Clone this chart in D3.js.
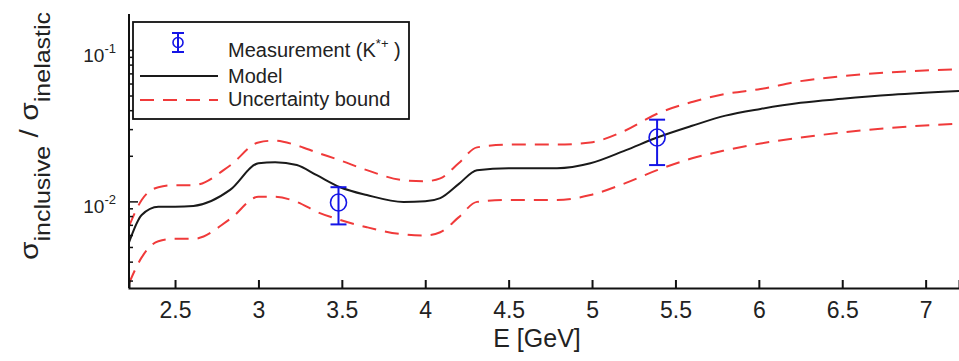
<!DOCTYPE html>
<html>
<head>
<style>
  body { margin: 0; background: #fff; }
  text { font-family: "Liberation Sans", Arial, sans-serif; fill: #222; }
</style>
<script src="https://d3js.org/d3.v7.min.js"></script>
</head>
<body>
<svg id="chart" width="959" height="361"></svg>
<script>
// energy grid [GeV] and curves
var energy = [2.224, 2.30, 2.40, 2.5, 2.61, 2.83, 3.0, 3.1, 3.23, 3.35, 3.49, 3.65, 3.87, 4.0, 4.09, 4.2, 4.31, 4.5, 4.79, 4.99, 5.2, 5.39, 5.6, 5.8, 6.01, 6.25, 6.5, 6.8, 7.2];
var model = [0.0054, 0.0082, 0.0093, 0.0093, 0.0094, 0.0120, 0.0180, 0.0183, 0.0175, 0.0150, 0.0125, 0.0111, 0.0100, 0.0101, 0.0106, 0.0131, 0.0162, 0.0167, 0.0167, 0.0180, 0.0219, 0.0266, 0.0318, 0.0371, 0.0411, 0.0451, 0.0479, 0.0509, 0.0539];
var upper = [0.0069, 0.0103, 0.0125, 0.0129, 0.0129, 0.0174, 0.0247, 0.0254, 0.0236, 0.0212, 0.0188, 0.0162, 0.0139, 0.0137, 0.0143, 0.0180, 0.0229, 0.0239, 0.0239, 0.0247, 0.0296, 0.0382, 0.0457, 0.0516, 0.0556, 0.0627, 0.0676, 0.0718, 0.0752];
var lower = [0.0029, 0.0043, 0.0055, 0.0057, 0.0057, 0.0077, 0.0108, 0.0108, 0.0100, 0.0086, 0.0076, 0.0068, 0.0061, 0.0060, 0.0063, 0.0079, 0.0100, 0.0103, 0.0103, 0.0111, 0.0133, 0.0162, 0.0194, 0.0219, 0.0243, 0.0266, 0.0287, 0.0309, 0.0328];

// measurements (K*+)
var measE = [3.48, 5.39];
var measVal = [0.0099, 0.0266];
var measLo = [0.0071, 0.0175];
var measHi = [0.0125, 0.0349];

var xTicks = [2.5, 3, 3.5, 4, 4.5, 5, 5.5, 6, 6.5, 7];
var yMajor = [0.01, 0.1];
var yMinor = [0.003, 0.004, 0.005, 0.006, 0.007, 0.008, 0.009, 0.02, 0.03, 0.04, 0.05, 0.06, 0.07, 0.08, 0.09];
var xDomain = [2.224, 7.2];
var yDomain = [0.0027, 0.174];

var svg = d3.select("#chart");
var margin = {top: 14, right: 0, bottom: 73, left: 129};
var W = +svg.attr("width"), H = +svg.attr("height");

var x = d3.scaleLinear().domain(xDomain).range([margin.left, W - margin.right]);
var y = d3.scaleLog().domain(yDomain).range([H - margin.bottom, margin.top]);

svg.append("clipPath").attr("id", "clip")
  .append("rect")
  .attr("x", margin.left).attr("y", margin.top)
  .attr("width", W - margin.left - margin.right)
  .attr("height", H - margin.top - margin.bottom);

var plot = svg.append("g").attr("clip-path", "url(#clip)");

var line = d3.line().curve(d3.curveMonotoneX);
function pts(vals) { return energy.map(function(e, i){ return [x(e), y(vals[i])]; }); }

[upper, lower].forEach(function(v){
  plot.append("path")
    .attr("d", line(pts(v)))
    .attr("fill", "none")
    .attr("stroke", "#f03a3a")
    .attr("stroke-width", 2)
    .attr("stroke-dasharray", "14,9");
});

plot.append("path")
  .attr("d", line(pts(model)))
  .attr("fill", "none")
  .attr("stroke", "#1a1a1a")
  .attr("stroke-width", 2);

// error bars
var blue = "#1515e6";
measE.forEach(function(e, i){
  var cx = x(e);
  var g = plot.append("g").attr("stroke", blue).attr("stroke-width", 2).attr("fill", "none");
  g.append("line").attr("x1", cx).attr("x2", cx).attr("y1", y(measLo[i])).attr("y2", y(measHi[i]));
  g.append("line").attr("x1", cx - 8).attr("x2", cx + 8).attr("y1", y(measLo[i])).attr("y2", y(measLo[i]));
  g.append("line").attr("x1", cx - 8).attr("x2", cx + 8).attr("y1", y(measHi[i])).attr("y2", y(measHi[i]));
  g.append("ellipse").attr("cx", cx).attr("cy", y(measVal[i])).attr("rx", 8).attr("ry", 8.5).attr("stroke-width", 1.6);
});

// axes
var xAxis = svg.append("g")
  .attr("transform", "translate(0," + (H - margin.bottom) + ")")
  .call(d3.axisBottom(x).tickValues(xTicks).tickSize(-8).tickPadding(14).tickFormat(d3.format("")));
xAxis.select(".domain").attr("stroke", "#111").attr("stroke-width", 2);
xAxis.selectAll(".tick line").attr("stroke", "#111").attr("stroke-width", 2);
xAxis.selectAll("text").style("font-size", "23px").attr("fill", "#222");

var yAxisG = svg.append("g").attr("transform", "translate(" + margin.left + ",0)");
yAxisG.append("line")
  .attr("x1", 0).attr("x2", 0)
  .attr("y1", margin.top).attr("y2", H - margin.bottom)
  .attr("stroke", "#111").attr("stroke-width", 2);
yAxisG.selectAll(".minor").data(yMinor).enter().append("line")
  .attr("x1", 0).attr("x2", 4)
  .attr("y1", function(d){ return y(d); }).attr("y2", function(d){ return y(d); })
  .attr("stroke", "#111").attr("stroke-width", 1.5);
yAxisG.selectAll(".major").data(yMajor).enter().append("line")
  .attr("x1", 0).attr("x2", 9)
  .attr("y1", function(d){ return y(d); }).attr("y2", function(d){ return y(d); })
  .attr("stroke", "#111").attr("stroke-width", 1.5);
var yl = yAxisG.selectAll(".ylab").data(yMajor).enter().append("text")
  .attr("x", -13)
  .attr("y", function(d){ return y(d) + 11.5; })
  .attr("text-anchor", "end")
  .style("font-size", "19px");
yl.append("tspan").text("10");
yl.append("tspan").attr("dy", -9).style("font-size", "13px")
  .text(function(d){ return "-" + Math.round(-Math.log10(d)); });

// axis titles
svg.append("text")
  .attr("x", 537)
  .attr("y", 347)
  .attr("text-anchor", "middle")
  .style("font-size", "25px")
  .text("E [GeV]");

var yt = svg.append("text")
  .attr("transform", "translate(38,136) rotate(-90) scale(1,0.85)")
  .attr("text-anchor", "middle")
  .style("font-size", "30px");
yt.append("tspan").text("σ");
yt.append("tspan").attr("dy", 14).style("font-size", "25px").text("inclusive");
yt.append("tspan").attr("dy", -14).text(" / σ");
yt.append("tspan").attr("dy", 14).style("font-size", "25px").text("inelastic");

// legend
var leg = svg.append("g");
leg.append("rect")
  .attr("x", 133).attr("y", 22).attr("width", 276).attr("height", 97)
  .attr("fill", "#fff").attr("stroke", "#111").attr("stroke-width", 1.8);

var li = leg.append("g").attr("stroke", blue).attr("stroke-width", 2).attr("fill", "none");
li.append("line").attr("x1", 178).attr("x2", 178).attr("y1", 33).attr("y2", 52);
li.append("line").attr("x1", 172).attr("x2", 184).attr("y1", 33).attr("y2", 33);
li.append("line").attr("x1", 172).attr("x2", 184).attr("y1", 52).attr("y2", 52);
li.append("circle").attr("cx", 178).attr("cy", 42.5).attr("r", 5).attr("stroke-width", 1.6);

leg.append("line").attr("x1", 140).attr("x2", 218).attr("y1", 76).attr("y2", 76)
  .attr("stroke", "#1a1a1a").attr("stroke-width", 2);
leg.append("line").attr("x1", 140).attr("x2", 218).attr("y1", 100).attr("y2", 100)
  .attr("stroke", "#f03a3a").attr("stroke-width", 2).attr("stroke-dasharray", "14,9");

var t1 = leg.append("text").attr("x", 228).attr("y", 57).style("font-size", "20px");
t1.append("tspan").text("Measurement (K");
t1.append("tspan").attr("dy", -9).style("font-size", "13px").text("*+");
t1.append("tspan").attr("dy", 9).text(" )");
leg.append("text").attr("x", 228).attr("y", 83).style("font-size", "20px").text("Model");
leg.append("text").attr("x", 228).attr("y", 106).style("font-size", "20px").text("Uncertainty bound");
</script>
</body>
</html>
